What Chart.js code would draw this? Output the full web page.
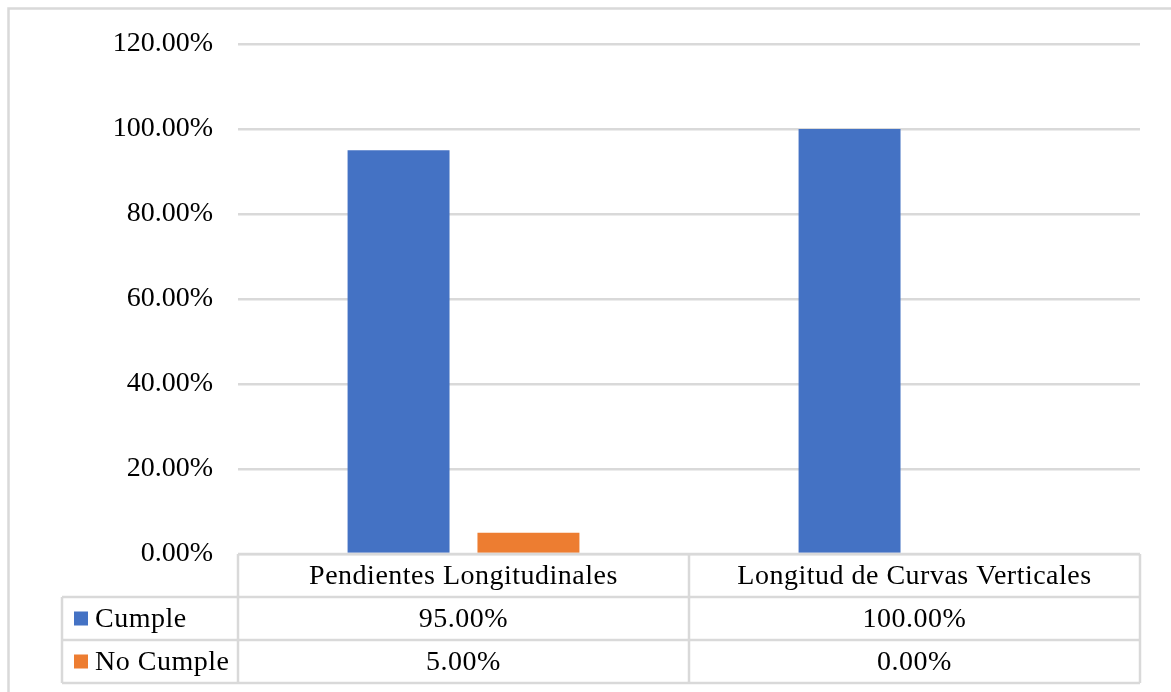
<!DOCTYPE html>
<html>
<head>
<meta charset="utf-8">
<script src="https://cdn.jsdelivr.net/npm/chart.js@4/dist/chart.umd.min.js"></script>
<style>
  html, body { margin: 0; padding: 0; background: #ffffff; }
  #wrap { width: 1171px; height: 692px; position: relative; }
</style>
</head>
<body>
<div id="wrap"><canvas id="c" width="1171" height="692"></canvas></div>
<script>
// Categories and series
const categories = ['Pendientes Longitudinales', 'Longitud de Curvas Verticales'];
const seriesNames = ['Cumple', 'No Cumple'];
const cumple = [95, 100];
const noCumple = [5, 0];
const seriesColors = ['#4472C4', '#ED7D31'];
const yMax = 120;
const yStep = 20;

const FONT = "'Liberation Serif', 'Times New Roman', serif";
const GRID = '#d9d9d9';
const pct = v => Number(v).toFixed(2) + '%';

// Outer frame of the chart
const framePlugin = {
  id: 'frame',
  beforeDraw(chart) {
    const ctx = chart.ctx;
    ctx.save();
    ctx.fillStyle = '#ffffff';
    ctx.fillRect(0, 0, chart.width, chart.height);
    ctx.strokeStyle = GRID;
    ctx.lineWidth = 2.5;
    ctx.strokeRect(8.5, 8.5, chart.width + 20, chart.height + 20);
    ctx.restore();
  }
};

// Data table under the plot, columns follow the category scale
const tablePlugin = {
  id: 'dataTable',
  afterDraw(chart) {
    const ctx = chart.ctx;
    const xs = chart.scales.x;
    const area = chart.chartArea;
    const rowH = 43;
    const top = area.bottom;
    const leftCol = 62;
    const n = categories.length;
    const colW = (area.right - area.left) / n;
    const rows = [top, top + rowH, top + 2 * rowH, top + 3 * rowH];

    ctx.save();
    ctx.strokeStyle = GRID;
    ctx.lineWidth = 2.5;
    ctx.beginPath();
    // header row
    ctx.moveTo(area.left, rows[0]); ctx.lineTo(area.right, rows[0]);
    // body rows
    for (let r = 1; r < rows.length; r++) {
      ctx.moveTo(leftCol, rows[r]); ctx.lineTo(area.right, rows[r]);
    }
    // verticals
    ctx.moveTo(leftCol, rows[1]); ctx.lineTo(leftCol, rows[3]);
    for (let i = 0; i <= n; i++) {
      const x = area.left + i * colW;
      ctx.moveTo(x, rows[0]); ctx.lineTo(x, rows[3]);
    }
    ctx.stroke();

    ctx.fillStyle = '#000000';
    ctx.font = '28px ' + FONT;
    ctx.letterSpacing = '0.5px';
    ctx.textBaseline = 'middle';
    ctx.textAlign = 'center';
    categories.forEach((c, i) => {
      const cx = xs.getPixelForValue(i);
      ctx.fillText(c, cx, (rows[0] + rows[1]) / 2 + 1);
    });
    const series = [cumple, noCumple];
    series.forEach((vals, s) => {
      const cy = (rows[s + 1] + rows[s + 2]) / 2 + 1;
      vals.forEach((v, i) => {
        ctx.fillText(pct(v), xs.getPixelForValue(i), cy);
      });
      // legend key and series name
      ctx.fillStyle = seriesColors[s];
      ctx.fillRect(74, cy - 8, 14, 14);
      ctx.fillStyle = '#000000';
      ctx.textAlign = 'left';
      ctx.fillText(seriesNames[s], 95, cy);
      ctx.textAlign = 'center';
    });
    ctx.restore();
  }
};

new Chart(document.getElementById('c'), {
  type: 'bar',
  data: {
    labels: categories,
    datasets: [
      { label: seriesNames[0], data: cumple, backgroundColor: seriesColors[0] },
      { label: seriesNames[1], data: noCumple, backgroundColor: seriesColors[1] }
    ]
  },
  options: {
    responsive: false,
    animation: false,
    devicePixelRatio: 1,
    layout: { padding: { left: 0, right: 31, top: 44, bottom: 138 } },
    datasets: {
      bar: { categoryPercentage: 0.576, barPercentage: 0.785 }
    },
    plugins: {
      legend: { display: false },
      tooltip: { enabled: false }
    },
    scales: {
      x: {
        display: false,
        grid: { display: false }
      },
      y: {
        min: 0,
        max: yMax,
        afterFit(scale) { scale.width = 238; },
        border: { display: false },
        grid: { color: GRID, lineWidth: 2.5, drawTicks: false },
        ticks: {
          stepSize: yStep,
          padding: 25,
          color: '#000000',
          font: { family: FONT, size: 28 },
          callback: v => pct(v)
        }
      }
    }
  },
  plugins: [framePlugin, tablePlugin]
});
</script>
</body>
</html>
